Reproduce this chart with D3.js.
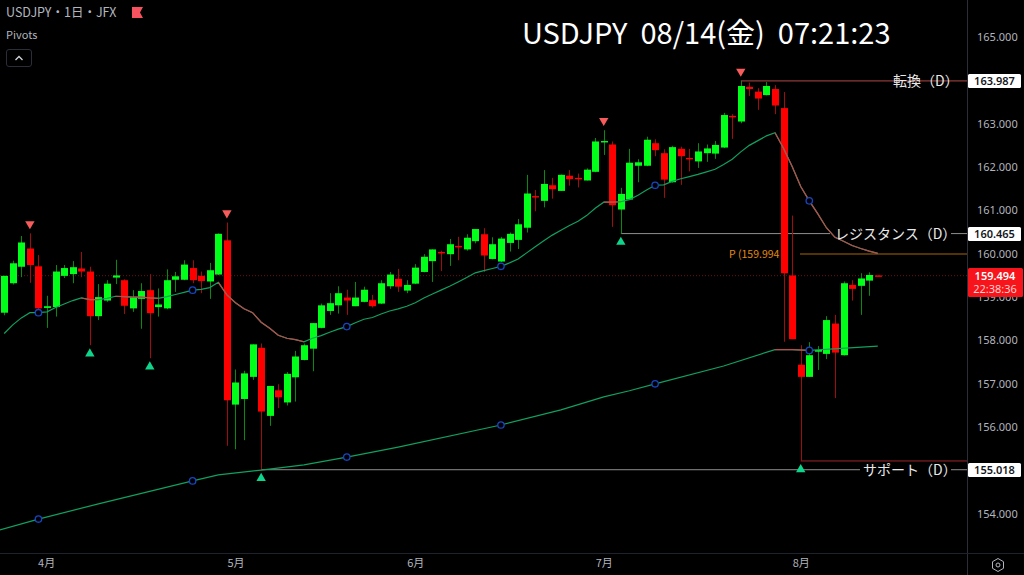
<!DOCTYPE html>
<html><head><meta charset="utf-8">
<script src="https://cdn.jsdelivr.net/npm/d3@7/dist/d3.min.js"></script>
<style>
html,body{margin:0;padding:0;background:#000;overflow:hidden}
svg{display:block}
text{font-family:"Noto Sans CJK JP","Noto Sans",sans-serif}
</style></head><body>
<svg id="c" width="1024" height="575"></svg>
<script>
const opens=[158.64,159.32,159.70,160.12,159.71,158.75,158.77,159.49,159.53,159.66,159.59,158.56,158.92,159.45,159.39,158.74,158.96,159.16,158.77,158.74,159.40,159.40,159.67,159.49,159.36,159.52,160.31,156.52,156.65,157.16,157.83,156.26,156.85,156.57,157.15,157.55,157.81,158.29,158.68,158.81,158.99,158.79,158.89,158.93,158.85,159.25,159.42,159.15,159.31,159.58,159.83,160.04,159.99,160.18,160.10,160.29,160.45,159.88,159.82,160.25,160.32,160.60,161.33,161.22,161.58,161.45,161.80,161.75,161.69,161.89,162.57,162.52,161.02,161.25,162.03,162.03,162.55,162.32,161.65,162.42,162.21,162.13,162.32,162.31,162.45,163.18,163.05,163.85,163.74,163.66,163.80,163.36,159.50,157.44,157.16,157.74,157.69,158.39,157.66,159.28,159.26,159.38,159.50];
const closes=[159.49,159.78,160.26,159.74,158.74,158.79,159.59,159.67,159.69,159.59,158.56,159.00,159.31,159.50,158.80,159.00,159.14,158.63,158.83,159.39,159.48,159.75,159.39,159.37,159.62,160.46,156.62,157.03,157.24,157.91,156.36,156.95,156.69,157.23,157.63,157.89,158.40,158.81,158.86,159.09,158.92,158.99,159.17,158.79,159.32,159.52,159.24,159.28,159.68,159.93,160.10,160.02,160.22,160.15,160.37,160.57,159.96,160.22,160.35,160.46,160.68,161.39,161.30,161.61,161.49,161.82,161.72,161.72,161.94,162.59,162.60,161.12,161.38,162.10,162.11,162.63,162.39,161.71,162.46,162.25,162.19,162.36,162.43,162.51,163.20,163.15,163.87,163.80,163.58,163.87,163.42,159.55,158.03,157.16,157.66,157.78,158.47,157.72,159.32,159.19,159.43,159.51,159.494];
const highs=[159.49,159.84,160.41,160.47,159.97,159.03,159.74,159.74,159.83,160.04,159.70,159.30,159.39,159.86,159.41,159.16,159.32,159.53,159.20,159.64,159.58,159.85,159.85,159.59,159.79,160.47,160.72,157.33,157.30,157.91,157.93,156.95,156.99,157.27,157.76,157.93,158.40,158.85,159.09,159.25,159.17,159.35,159.24,159.05,159.39,159.58,159.65,159.39,159.76,159.99,160.10,160.07,160.34,160.39,160.45,160.57,160.59,160.38,160.39,160.49,160.80,161.82,161.47,161.93,161.75,161.83,161.93,161.85,161.97,162.67,162.85,162.59,161.52,162.42,162.18,162.70,162.64,162.41,162.49,162.47,162.42,162.55,162.52,162.60,163.25,163.22,163.987,163.95,163.82,163.96,163.89,163.73,160.88,157.89,157.96,157.87,158.56,158.59,159.36,159.39,159.55,159.57,159.50];
const lows=[158.58,159.29,159.46,159.33,158.70,158.29,158.55,159.44,159.32,159.46,157.89,158.47,158.89,159.30,158.61,158.66,158.27,157.59,158.55,158.72,159.12,159.39,159.32,159.09,158.96,159.51,155.57,155.49,155.70,157.09,155.018,156.03,156.44,156.50,156.59,157.54,157.29,158.28,158.59,158.62,158.59,158.79,158.88,158.76,158.84,159.19,159.12,159.09,159.30,159.57,159.35,159.60,159.72,159.85,160.07,160.24,159.58,159.87,159.81,160.05,160.11,160.49,160.98,161.07,161.27,161.45,161.57,161.53,161.69,161.88,162.28,160.62,160.465,161.24,161.65,162.02,162.25,161.29,161.64,161.59,161.90,161.98,162.12,162.19,162.44,162.65,163.01,163.64,163.32,163.65,163.22,157.97,158.03,155.22,157.16,157.32,157.57,156.67,157.65,158.92,158.59,159.03,159.48];

const shortMA=[158.16,158.36,158.52,158.64,158.64,158.66,158.76,158.84,158.92,158.98,158.94,158.94,158.97,159.02,159.01,159.00,159.00,158.98,158.97,159.01,159.06,159.11,159.16,159.18,159.22,159.34,159.05,158.87,158.73,158.64,158.42,158.28,158.12,158.05,158.02,157.97,158.05,158.11,158.19,158.26,158.32,158.41,158.49,158.53,158.61,158.68,158.73,158.79,158.87,158.98,159.07,159.16,159.25,159.35,159.45,159.56,159.61,159.66,159.71,159.79,159.88,160.02,160.16,160.30,160.43,160.54,160.65,160.75,160.88,161.05,161.19,161.19,161.20,161.25,161.35,161.47,161.58,161.59,161.67,161.73,161.78,161.83,161.89,161.95,162.06,162.18,162.35,162.50,162.61,162.72,162.79,162.43,162.01,161.55,161.22,160.92,160.60,160.38,160.29,160.19,160.12,160.06,160.01];
const shortMAFalling=[[9,11],[13,18],[25,35],[70,72],[90,102]];
const longIdx=[-0.5,4,11,22,25,30,35,40,46,58,65,70,73,76,84,90,92,94,102];
const longMA=[153.63,153.88,154.23,154.76,154.90,155.01,155.13,155.31,155.54,156.05,156.40,156.70,156.84,157.00,157.41,157.79,157.79,157.77,157.87];
const longMAFalling=[[90,94]];
const maPivots=[4,22,40,58,76,94];
const swingHighs=[3,26,70,86];
const swingLows=[10,17,30,72,93];
const priceTicks=[154,155,156,157,158,159,160,161,162,163,164,165];
const monthIdx=[4.9,27,48,70,93];
const monthLabels=["4月","5月","6月","7月","8月"];
const pivotLabel="P (159.994";
const pivotPrice=159.994, lastPrice=159.494, turnPrice=163.987, resistPrice=160.465, supportPrice=155.018, supportD2=155.22;

const svg=d3.select("#c");
const W=1024,H=575,axisX=967,timeY=553;
svg.append("rect").attr("width",W).attr("height",H).attr("fill","#000");
const x=d3.scaleLinear().domain([0,102]).range([4.2,877.8]);
const y=d3.scaleLinear().domain([154,165]).range([513.85,37]);
const G="#00ff19",R="#ff0000",GW="#0b8a12",RW="#a00d0d";
const plot=svg.append("g");
const defs=svg.append("defs");
defs.append("clipPath").attr("id","pc").append("rect").attr("width",axisX).attr("height",timeY);
plot.attr("clip-path","url(#pc)");

// last price dotted line
plot.append("line").attr("x1",0).attr("x2",axisX).attr("y1",y(lastPrice)).attr("y2",y(lastPrice))
 .attr("stroke","#6e0f0f").attr("stroke-dasharray","1 2");

// horizontal levels
const hl=(x1,x2,p,c,w)=>plot.append("line").attr("x1",x1).attr("x2",x2).attr("y1",y(p)).attr("y2",y(p)).attr("stroke",c).attr("stroke-width",w||1);
hl(x(86),axisX,turnPrice,"#b04a48");
hl(x(72),830,resistPrice,"#8f8f8f");
hl(951,axisX,resistPrice,"#8f8f8f");
hl(800,axisX,pivotPrice,"#6f4508",1.3);
hl(x(93),axisX,supportD2,"#a0252a");
hl(x(30),860,supportPrice,"#8f8f8f");
hl(951,axisX,supportPrice,"#8f8f8f");

// candles
const idx=d3.range(opens.length);
plot.append("g").selectAll("line").data(idx).join("line")
 .attr("x1",i=>Math.round(x(i))+.5).attr("x2",i=>Math.round(x(i))+.5)
 .attr("y1",i=>y(highs[i])).attr("y2",i=>y(lows[i]))
 .attr("stroke",i=>closes[i]>=opens[i]?GW:RW);
plot.append("g").selectAll("rect").data(idx).join("rect")
 .attr("x",i=>Math.round(x(i))-3).attr("width",7)
 .attr("y",i=>y(Math.max(opens[i],closes[i])))
 .attr("height",i=>Math.max(1.4,Math.abs(y(opens[i])-y(closes[i]))))
 .attr("fill",i=>closes[i]>=opens[i]?G:R);

// moving averages
const GL="#10a060",RL="#bd4a4a";
const line=d3.line().x(d=>x(d[0])).y(d=>y(d[1]));
const sPts=shortMA.map((v,i)=>[i,v]);
plot.append("path").attr("d",line(sPts)).attr("fill","none").attr("stroke",GL).attr("stroke-width",1.2);
shortMAFalling.forEach(([a,b])=>plot.append("path").attr("d",line(sPts.slice(a,b+1))).attr("fill","none").attr("stroke",RL).attr("stroke-width",1.2));
const lPts=longMA.map((v,i)=>[longIdx[i],v]);
plot.append("path").attr("d",line(lPts)).attr("fill","none").attr("stroke",GL).attr("stroke-width",1.2);
longMAFalling.forEach(([a,b])=>plot.append("path").attr("d",line(lPts.filter(d=>d[0]>=a&&d[0]<=b))).attr("fill","none").attr("stroke",RL).attr("stroke-width",1.2));

// MA pivot circles
const circ=(px,py)=>plot.append("circle").attr("cx",px).attr("cy",py).attr("r",3.2).attr("fill","#000").attr("stroke","#1746c4").attr("stroke-width",1.3);
maPivots.forEach(i=>{circ(x(i),y(shortMA[i]));circ(x(i),y(longMA[longIdx.indexOf(i)]));});

// swing triangles
const tri=d3.symbol().type(d3.symbolTriangle).size(38);
plot.append("g").selectAll("path").data(swingHighs).join("path").attr("d",tri)
 .attr("transform",i=>`translate(${x(i)},${y(highs[i])-9.5}) rotate(180)`).attr("fill","#f75b5b");
plot.append("g").selectAll("path").data(swingLows).join("path").attr("d",tri)
 .attr("transform",i=>`translate(${x(i)},${y(lows[i])+8.5})`).attr("fill","#0fd58c");

// level labels
const lab=(t,px,p)=>plot.append("text").text(t).attr("x",px).attr("y",y(p)+5).attr("fill","#e8e8e8").attr("font-size",14);
lab("転換（D）",893,turnPrice);
lab("レジスタンス（D）",835,resistPrice);
lab("サポート（D）",863,supportPrice);
plot.append("text").text(pivotLabel).attr("x",729).attr("y",y(pivotPrice)+4).attr("fill","#e08a10").attr("font-size",10.5).attr("font-family","Roboto");

// frame
svg.append("line").attr("x1",axisX+.5).attr("x2",axisX+.5).attr("y1",0).attr("y2",H).attr("stroke","#2a2e39");
svg.append("line").attr("x1",0).attr("x2",W).attr("y1",timeY+.5).attr("y2",timeY+.5).attr("stroke","#1e222d");

// price axis
const ax=d3.axisRight(y).tickValues(priceTicks).tickFormat(d3.format(".3f")).tickSize(0).tickPadding(0);
const ag=svg.append("g").attr("transform",`translate(${axisX+10},0)`).call(ax);
ag.select(".domain").remove();
ag.selectAll("text").attr("fill","#b2b5be").attr("font-size",11).style("font-family","'Noto Sans',sans-serif");

// time axis
const tx=d3.axisBottom(x).tickValues(monthIdx).tickFormat((d,i)=>monthLabels[i]).tickSize(0).tickPadding(0);
const tg=svg.append("g").attr("transform",`translate(0,${timeY+6})`).call(tx);
tg.select(".domain").remove();
tg.selectAll("text").attr("fill","#b2b5be").attr("font-size",11);

// price boxes
const box=(p,t)=>{const g=svg.append("g");
 g.append("rect").attr("x",968).attr("y",Math.round(y(p))-7).attr("width",53).attr("height",14).attr("rx",1.5).attr("fill","#fff");
 g.append("text").text(t).attr("x",994.5).attr("y",Math.round(y(p))+4).attr("text-anchor","middle").attr("fill","#131722").attr("font-size",11).attr("font-weight",600).style("font-family","'Noto Sans',sans-serif");};
box(turnPrice,turnPrice.toFixed(3));
box(resistPrice,resistPrice.toFixed(3));
box(supportPrice,supportPrice.toFixed(3));
svg.append("rect").attr("x",968).attr("y",268).attr("width",55).attr("height",29).attr("rx",1.5).attr("fill","#f7141a");
svg.append("text").text(lastPrice.toFixed(3)).attr("x",995).attr("y",279.5).attr("text-anchor","middle").attr("fill","#fff").attr("font-size",11).attr("font-weight",600).style("font-family","'Noto Sans',sans-serif");
svg.append("text").text("22:38:36").attr("x",995).attr("y",293).attr("text-anchor","middle").attr("fill","#ffd0d0").attr("font-size",11).style("font-family","'Noto Sans',sans-serif");

// header
svg.append("text").text("USDJPY・1日・JFX").attr("x",6).attr("y",17).attr("fill","#b2b5be").attr("font-size",12.5);
svg.append("path").attr("d","M132 7H143L140 12.5L143 18H132Z").attr("fill","#f7525f");
svg.append("text").text("Pivots").attr("x",6).attr("y",39).attr("fill","#b2b5be").attr("font-size",11);
svg.append("rect").attr("x",6.5).attr("y",49.5).attr("width",25).attr("height",17).attr("rx",2.5).attr("fill","#000").attr("stroke","#2a2e39");
svg.append("path").attr("d","M15.5 60L19 56.5L22.5 60").attr("fill","none").attr("stroke","#d1d4dc").attr("stroke-width",1.3);
svg.append("text").text("USDJPY  08/14(金)  07:21:23").attr("x",522).attr("y",44).attr("fill","#fff").attr("font-size",29).attr("xml:space","preserve").style("white-space","pre");

// settings icon
svg.append("path").attr("d","M998 558.5L1003.5 561.7V568.3L998 571.5L992.5 568.3V561.7Z").attr("fill","none").attr("stroke","#b2b5be");
svg.append("circle").attr("cx",998).attr("cy",565).attr("r",2).attr("fill","none").attr("stroke","#b2b5be");
</script>
</body></html>
